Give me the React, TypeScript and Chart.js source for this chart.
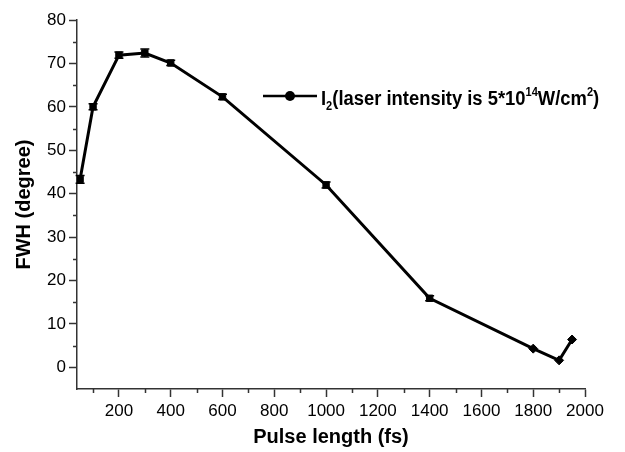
import React, { useEffect, useRef } from "react";
import { Chart, registerables } from "chart.js";

Chart.register(...registerables);

// ---- data ----
const pulseLength = [50, 100, 200, 300, 400, 600, 1000, 1400, 1800, 1900, 1950];
const fwh = [43.3, 60.0, 71.9, 72.4, 70.1, 62.3, 42.0, 15.9, 4.3, 1.6, 6.4];
const fwhErr = [0.9, 0.7, 0.7, 0.9, 0.6, 0.6, 0.7, 0.6, 0, 0, 0];
const markerStyles = ["rect", "rect", "rect", "rect", "rect", "rect", "rect", "rect", "rectRot", "rectRot", "rectRot"];
const markerSizes = [4.5, 4.5, 4.5, 4.5, 4.5, 4.5, 4.5, 4.5, 4.5, 4.5, 4.5];

const xMajorTicks = [200, 400, 600, 800, 1000, 1200, 1400, 1600, 1800, 2000];
const xMinorTicks = [100, 300, 500, 700, 900, 1100, 1300, 1500, 1700, 1900];
const yMajorTicks = [0, 10, 20, 30, 40, 50, 60, 70, 80];
const yMinorTicks = [5, 15, 25, 35, 45, 55, 65, 75];

const xTitle = "Pulse length (fs)";
const yTitle = "FWH (degree)";
const legendParts = [
  { t: "I", k: "n" },
  { t: "2", k: "sub" },
  { t: "(laser intensity is 5*10", k: "n" },
  { t: "14", k: "sup" },
  { t: "W/cm", k: "n" },
  { t: "2", k: "sup" },
  { t: ")", k: "n" },
];

const FONT = "'Liberation Sans', Arial, Helvetica, sans-serif";
const AXIS_COLOR = "#333333";

const extrasPlugin = {
  id: "extras",
  afterDatasetsDraw(chart: any) {
    const ctx = chart.ctx;
    const xs = chart.scales.x;
    const ys = chart.scales.y;
    ctx.save();
    ctx.strokeStyle = "#000";
    ctx.lineWidth = 1.5;
    pulseLength.forEach((xv, i) => {
      const e = fwhErr[i];
      if (!e) return;
      const px = xs.getPixelForValue(xv);
      const y1 = ys.getPixelForValue(fwh[i] + e);
      const y2 = ys.getPixelForValue(fwh[i] - e);
      ctx.beginPath();
      ctx.moveTo(px, y1);
      ctx.lineTo(px, y2);
      ctx.moveTo(px - 4.5, y1);
      ctx.lineTo(px + 4.5, y1);
      ctx.moveTo(px - 4.5, y2);
      ctx.lineTo(px + 4.5, y2);
      ctx.stroke();
    });
    ctx.restore();
  },
  afterDraw(chart: any) {
    const ctx = chart.ctx;
    const xs = chart.scales.x;
    const ys = chart.scales.y;
    const area = chart.chartArea;
    ctx.save();
    ctx.strokeStyle = AXIS_COLOR;
    ctx.lineWidth = 1.5;
    ctx.beginPath();
    xMinorTicks.forEach((v) => {
      const px = Math.round(xs.getPixelForValue(v)) + 0.5;
      ctx.moveTo(px, area.bottom);
      ctx.lineTo(px, area.bottom + 4);
    });
    yMinorTicks.forEach((v) => {
      const py = Math.round(ys.getPixelForValue(v)) + 0.5;
      ctx.moveTo(area.left, py);
      ctx.lineTo(area.left - 4, py);
    });
    ctx.stroke();

    // axis titles
    ctx.fillStyle = "#000";
    ctx.font = `bold 20px ${FONT}`;
    ctx.textAlign = "center";
    ctx.textBaseline = "middle";
    ctx.fillText(xTitle, (area.left + area.right) / 2, 437);
    ctx.save();
    ctx.translate(24, (area.top + area.bottom) / 2);
    ctx.rotate(-Math.PI / 2);
    ctx.fillText(yTitle, 0, 0);
    ctx.restore();

    // legend
    const ly = 96;
    ctx.strokeStyle = "#000";
    ctx.lineWidth = 2.5;
    ctx.beginPath();
    ctx.moveTo(263, ly);
    ctx.lineTo(317, ly);
    ctx.stroke();
    ctx.beginPath();
    ctx.arc(290, ly, 5, 0, Math.PI * 2);
    ctx.fillStyle = "#000";
    ctx.fill();
    ctx.save();
    ctx.translate(321, 105);
    ctx.scale(0.92, 1);
    let x = 0;
    ctx.textAlign = "left";
    ctx.textBaseline = "alphabetic";
    legendParts.forEach((p) => {
      if (p.k === "n") {
        ctx.font = `bold 20px ${FONT}`;
        ctx.fillText(p.t, x, 0);
      } else if (p.k === "sub") {
        ctx.font = `bold 12px ${FONT}`;
        ctx.fillText(p.t, x, 5);
      } else {
        ctx.font = `bold 12px ${FONT}`;
        ctx.fillText(p.t, x, -9);
      }
      x += ctx.measureText(p.t).width;
    });
    ctx.restore();
    ctx.restore();
  },
};

export default function App() {
  const ref = useRef<HTMLCanvasElement | null>(null);
  useEffect(() => {
    if (!ref.current) return;
    const chart = new Chart(ref.current, {
      type: "line",
      data: {
        datasets: [
          {
            data: pulseLength.map((x, i) => ({ x, y: fwh[i] })),
            borderColor: "#000",
            backgroundColor: "#000",
            borderWidth: 3,
            pointStyle: markerStyles as any,
            pointRadius: markerSizes,
            pointBorderWidth: 1,
            pointBorderColor: "#000",
            pointBackgroundColor: "#000",
            tension: 0,
          },
        ],
      },
      plugins: [extrasPlugin],
      options: {
        responsive: false,
        animation: false,
        devicePixelRatio: 1,
        layout: { padding: { top: 20, right: 40, left: 0, bottom: 0 } },
        plugins: { legend: { display: false }, tooltip: { enabled: false } },
        scales: {
          x: {
            type: "linear",
            min: 38,
            max: 2000,
            afterFit: (s: any) => {
              s.height = 63;
            },
            afterBuildTicks: (s: any) => {
              s.ticks = xMajorTicks.map((v) => ({ value: v }));
            },
            grid: {
              display: true,
              drawOnChartArea: false,
              drawTicks: true,
              tickLength: 8,
              tickWidth: 1.5,
              tickColor: AXIS_COLOR,
            },
            border: { display: true, color: AXIS_COLOR, width: 1.5 },
            ticks: {
              autoSkip: false,
              maxRotation: 0,
              padding: 4,
              color: "#000",
              font: { family: FONT, size: 17 },
              callback: (v: any) => String(v),
            },
          },
          y: {
            type: "linear",
            min: -5,
            max: 80,
            afterFit: (s: any) => {
              s.width = 77;
            },
            afterBuildTicks: (s: any) => {
              s.ticks = yMajorTicks.map((v) => ({ value: v }));
            },
            grid: {
              display: true,
              drawOnChartArea: false,
              drawTicks: true,
              tickLength: 8,
              tickWidth: 1.5,
              tickColor: AXIS_COLOR,
            },
            border: { display: true, color: AXIS_COLOR, width: 1.5 },
            ticks: {
              autoSkip: false,
              padding: 3,
              color: "#000",
              font: { family: FONT, size: 17 },
              callback: (v: any) => String(v),
            },
          },
        },
      },
    });
    return () => chart.destroy();
  }, []);
  return (
    <div style={{ position: "absolute", left: 0, top: 0, width: 625, height: 452, background: "#fff" }}>
      <canvas ref={ref} width={625} height={452} style={{ width: 625, height: 452 }} />
    </div>
  );
}
